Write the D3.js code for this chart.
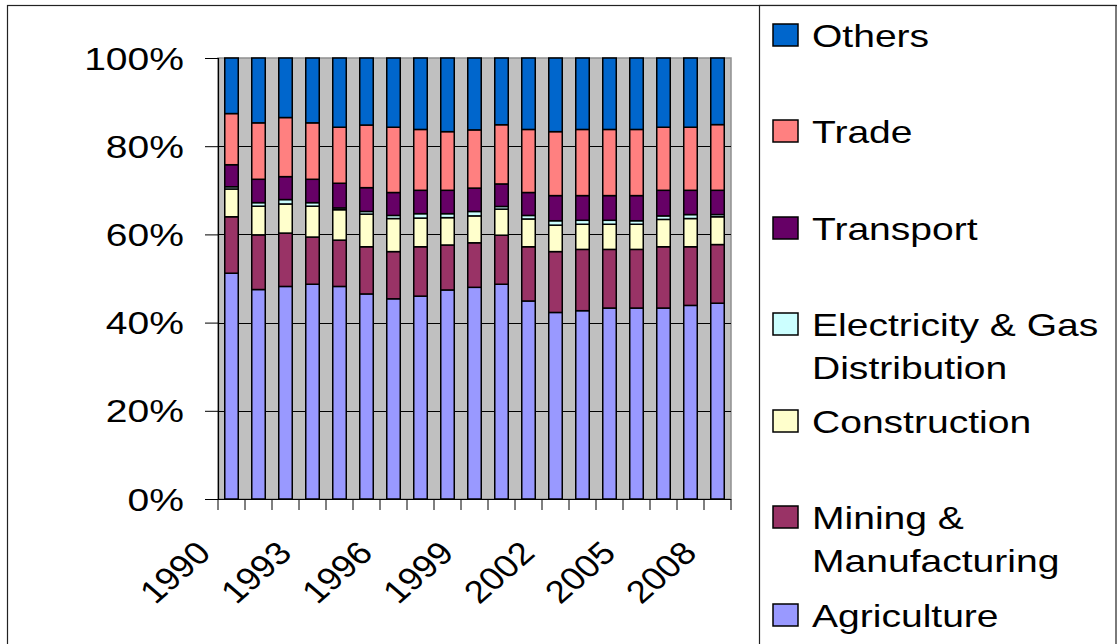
<!DOCTYPE html>
<html>
<head>
<meta charset="utf-8">
<script src="https://cdn.jsdelivr.net/npm/d3@7"></script>
<style>
  html, body { margin: 0; padding: 0; background: #fff; }
  svg { display: block; font-family: "Liberation Sans", Arial, sans-serif; }
</style>
</head>
<body>
<svg id="chart" width="1117" height="644"></svg>
<script>
const years = ["1990","1991","1992","1993","1994","1995","1996","1997","1998","1999",
               "2000","2001","2002","2003","2004","2005","2006","2007","2008"];
const agriculture  = [51.2, 47.5, 48.2, 48.7, 48.2, 46.5, 45.4, 46.0, 47.4, 48.0, 48.6, 44.9, 42.3, 42.7, 43.3, 43.3, 43.3, 43.9, 44.4];
const mining       = [12.8, 12.4, 12.1, 10.7, 10.5, 10.7, 10.7, 11.2, 10.2, 10.1, 11.1, 12.3, 13.8, 13.9, 13.3, 13.3, 13.9, 13.3, 13.3];
const construction = [6.3, 6.5, 6.6, 7.0, 6.9, 7.4, 7.5, 6.5, 6.2, 6.1, 5.9, 6.3, 6.0, 5.7, 5.7, 5.7, 6.2, 6.4, 6.3];
const electricity  = [0.5, 0.8, 1.0, 0.8, 0.4, 0.6, 0.7, 1.0, 0.9, 1.0, 0.6, 0.8, 1.0, 0.9, 0.9, 0.8, 0.8, 0.9, 0.5];
const transport    = [5.0, 5.3, 5.2, 5.3, 5.6, 5.4, 5.2, 5.3, 5.3, 5.3, 5.1, 5.2, 5.7, 5.6, 5.6, 5.7, 5.8, 5.5, 5.5];
const trade        = [11.6, 12.8, 13.4, 12.8, 12.7, 14.2, 14.8, 13.8, 13.3, 13.2, 13.4, 14.3, 14.5, 15.0, 15.0, 15.0, 14.3, 14.3, 14.9];
const others       = [12.6, 14.7, 13.5, 14.7, 15.7, 15.2, 15.7, 16.2, 16.7, 16.3, 15.1, 16.2, 16.7, 16.2, 16.2, 16.2, 15.7, 15.7, 15.1];
const yTicks = [0, 0.2, 0.4, 0.6, 0.8, 1.0];
const xLabelYears = ["1990","1993","1996","1999","2002","2005","2008"];

const seriesKeys = ["Agriculture","Mining & Manufacturing","Construction","Electricity & Gas Distribution","Transport","Trade","Others"];
const seriesVals = [agriculture, mining, construction, electricity, transport, trade, others];
const seriesColors = ["#9999FF","#993366","#FFFFCC","#CCFFFF","#660066","#FF8080","#0066CC"];
const legendLines = {
  "Others": ["Others"],
  "Trade": ["Trade"],
  "Transport": ["Transport"],
  "Electricity & Gas Distribution": ["Electricity & Gas", "Distribution"],
  "Construction": ["Construction"],
  "Mining & Manufacturing": ["Mining &", "Manufacturing"],
  "Agriculture": ["Agriculture"]
};

const table = years.map((y, i) => {
  const row = { year: y };
  seriesKeys.forEach((k, j) => row[k] = seriesVals[j][i]);
  return row;
});

const STRETCH = 1.22;   // the reference text is horizontally stretched
const FONT = 32;

const svg = d3.select("#chart");
svg.append("rect").attr("width", 1117).attr("height", 644).attr("fill", "#fff");

// outer chart border
svg.append("rect").attr("x", 7.5).attr("y", 5.5).attr("width", 1200).attr("height", 700)
  .attr("fill", "none").attr("stroke", "#222").attr("stroke-width", 1.2);

const plot = { left: 218, right: 731, top: 58, bottom: 499 };

const x = d3.scaleBand().domain(years).range([plot.left, plot.right]).paddingInner(0.5).paddingOuter(0.25);
const y = d3.scaleLinear().domain([0, 1]).range([plot.bottom, plot.top]);

// plot area
svg.append("rect").attr("x", plot.left).attr("y", plot.top)
  .attr("width", plot.right - plot.left).attr("height", plot.bottom - plot.top)
  .attr("fill", "#C0C0C0").attr("stroke", "#909090").attr("stroke-width", 1.5);

// gridlines
svg.append("g").selectAll("line").data(yTicks.filter(t => t > 0 && t < 1)).join("line")
  .attr("x1", plot.left).attr("x2", plot.right)
  .attr("y1", d => Math.round(y(d)) + 0.5).attr("y2", d => Math.round(y(d)) + 0.5)
  .attr("stroke", "#000").attr("stroke-width", 1);

// stacked bars
const stack = d3.stack().keys(seriesKeys).offset(d3.stackOffsetExpand);
const stacked = stack(table);

svg.append("g").selectAll("g").data(stacked).join("g")
  .attr("fill", (d, i) => seriesColors[i])
  .selectAll("rect").data(d => d).join("rect")
  .attr("x", d => x(d.data.year))
  .attr("width", x.bandwidth())
  .attr("y", d => y(d[1]))
  .attr("height", d => y(d[0]) - y(d[1]))
  .attr("stroke", "#000").attr("stroke-width", 1.5);

// y axis
const yAxis = d3.axisLeft(y).tickValues(yTicks).tickFormat("").tickSize(13);
const gy = svg.append("g").attr("transform", `translate(${plot.left},0)`).call(yAxis);
gy.select(".domain").attr("stroke", "#000").attr("stroke-width", 1.2);
gy.selectAll(".tick line").attr("stroke", "#000");
const fmt = d3.format(".0%");
svg.append("g").selectAll("text").data(yTicks).join("text")
  .attr("transform", d => `translate(184,${y(d)}) scale(${STRETCH},1)`)
  .attr("dy", "0.36em")
  .attr("text-anchor", "end")
  .attr("font-size", FONT).attr("fill", "#000")
  .text(d => fmt(d));

// x axis
const boundaries = d3.range(years.length + 1).map(i => plot.left + i * x.step());
const gx = svg.append("g");
gx.append("line").attr("x1", plot.left - 13).attr("x2", plot.right)
  .attr("y1", plot.bottom + 0.5).attr("y2", plot.bottom + 0.5).attr("stroke", "#000").attr("stroke-width", 1.2);
gx.selectAll("line.tk").data(boundaries).join("line").attr("class", "tk")
  .attr("x1", d => d).attr("x2", d => d)
  .attr("y1", plot.bottom).attr("y2", plot.bottom + 11)
  .attr("stroke", "#000").attr("stroke-width", 1);
gx.selectAll("text").data(xLabelYears).join("text")
  .attr("transform", d => `translate(${x(d) + x.bandwidth() / 2 - 19},${plot.bottom + 56}) scale(1.14,1) rotate(-45)`)
  .attr("text-anchor", "end")
  .attr("font-size", FONT)
  .attr("fill", "#000")
  .text(d => d);

// legend
const legend = svg.append("g");
legend.append("rect").attr("x", 759.5).attr("y", 5.5).attr("width", 356.5).attr("height", 700)
  .attr("fill", "#fff").attr("stroke", "#222").attr("stroke-width", 1.2);

const legendOrder = ["Others","Trade","Transport","Electricity & Gas Distribution","Construction","Mining & Manufacturing","Agriculture"];
const legendBaselines = [47, 143, 240, 336, 433, 529, 627];
const items = legend.selectAll("g.item").data(legendOrder).join("g").attr("class", "item");
items.append("rect")
  .attr("x", 773).attr("y", (d, i) => legendBaselines[i] - 23)
  .attr("width", 25).attr("height", 22)
  .attr("fill", d => seriesColors[seriesKeys.indexOf(d)])
  .attr("stroke", "#000").attr("stroke-width", 1.5);
items.each(function(d, i) {
  const g = d3.select(this);
  legendLines[d].forEach((line, j) => {
    g.append("text")
      .attr("transform", `translate(812,${legendBaselines[i] + j * 43}) scale(${STRETCH},1)`)
      .attr("font-size", FONT).attr("fill", "#000").text(line);
  });
});
</script>
</body>
</html>
